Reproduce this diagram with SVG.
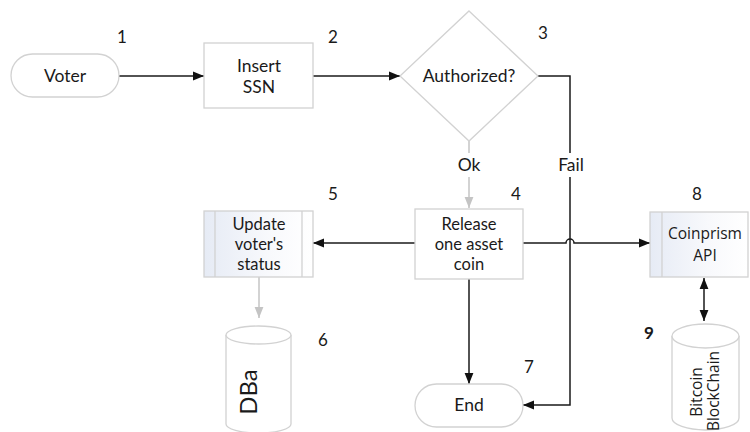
<svg xmlns="http://www.w3.org/2000/svg" width="750" height="432" viewBox="0 0 750 432">
  <defs>
    <marker id="arr" viewBox="0 0 10 10" refX="10" refY="5" markerWidth="11" markerHeight="11" markerUnits="userSpaceOnUse" orient="auto-start-reverse">
      <path d="M0,1 L10,5 L0,9 Z" fill="#111"/>
    </marker>
    <marker id="arrGray" viewBox="0 0 10 10" refX="10" refY="5" markerWidth="11" markerHeight="11" markerUnits="userSpaceOnUse" orient="auto">
      <path d="M0,1 L10,5 L0,9 Z" fill="#c4c4c4"/>
    </marker>
    <linearGradient id="sub" x1="0" y1="0" x2="1" y2="0">
      <stop offset="0" stop-color="#e6ebf5"/>
      <stop offset="0.6" stop-color="#f8f9fc"/>
      <stop offset="1" stop-color="#ffffff"/>
    </linearGradient>
  </defs>
  <style>
    .shape { fill: #ffffff; stroke: #d2d2d2; stroke-width: 1.3; }
    .sub { fill: url(#sub); stroke: #d2d2d2; stroke-width: 1.3; }
    .inner { stroke: #d2d2d2; stroke-width: 1.3; fill: none; }
    .lbl { font-family: Lato, "Liberation Sans", sans-serif; font-size: 17.5px; fill: #1a1a1a; text-anchor: middle; }
    .tight { font-size: 16.5px; }
    .num { font-family: Lato, "Liberation Sans", sans-serif; font-size: 17px; fill: #1a1a1a; text-anchor: middle; }
    .seg { font-family: "Open Sans", "Noto Sans", sans-serif; font-size: 15.5px; fill: #1a1a1a; text-anchor: middle; }
    .line { fill: none; stroke: #1a1a1a; stroke-width: 1.5; }
    .gray { fill: none; stroke: #c4c4c4; stroke-width: 1.5; }
  </style>
  <rect width="750" height="432" fill="#ffffff"/>

  <!-- connectors -->
  <g id="connectors">
    <path class="line" d="M119,76 L204,76" marker-end="url(#arr)"/>
    <path class="line" d="M313,76 L400,76" marker-end="url(#arr)"/>
    <path class="gray" d="M469,141 L469,208" marker-end="url(#arrGray)"/>
    <path class="line" d="M538,76 L570,76 L570,405 L523,405" marker-end="url(#arr)"/>
    <path class="line" d="M415,243 L313,243" marker-end="url(#arr)"/>
    <path class="line" d="M523,243 L566,243 A4,4 0 0 1 574,243 L650,243" marker-end="url(#arr)"/>
    <path class="gray" d="M259,277 L259,318" marker-end="url(#arrGray)"/>
    <path class="line" d="M469,279 L469,384" marker-end="url(#arr)"/>
    <path class="line" d="M704,278 L704,321" marker-start="url(#arr)" marker-end="url(#arr)"/>
    <rect x="451" y="153" width="36" height="24" fill="#ffffff"/>
    <text class="lbl" x="469" y="171">Ok</text>
    <rect x="554" y="153" width="34" height="24" fill="#ffffff"/>
    <text class="lbl" x="571" y="171">Fail</text>
  </g>

  <g id="n1">
    <rect class="shape" x="11" y="54" width="108" height="43" rx="21.5"/>
    <text class="lbl" x="65" y="82">Voter</text>
    <text class="num" x="122" y="43">1</text>
  </g>

  <g id="n2">
    <rect class="shape" x="204" y="43" width="109" height="65"/>
    <text class="lbl" x="259" y="72">Insert</text>
    <text class="lbl" x="259" y="93">SSN</text>
    <text class="num" x="333" y="43">2</text>
  </g>

  <g id="n3">
    <path class="shape" d="M469,11 L538,76 L469,141 L400,76 Z"/>
    <text class="lbl" x="469" y="82">Authorized?</text>
    <text class="num" x="543" y="39">3</text>
  </g>

  <g id="n4">
    <rect class="shape" x="415" y="209" width="108" height="70"/>
    <text class="lbl tight" x="469" y="230">Release</text>
    <text class="lbl tight" x="469" y="250">one asset</text>
    <text class="lbl tight" x="469" y="270">coin</text>
    <text class="num" x="516" y="200">4</text>
  </g>

  <g id="n5">
    <rect class="sub" x="204" y="211" width="109" height="66"/>
    <line class="inner" x1="215" y1="211" x2="215" y2="277"/>
    <line class="inner" x1="302" y1="211" x2="302" y2="277"/>
    <text class="lbl tight" x="259" y="230">Update</text>
    <text class="lbl tight" x="259" y="250">voter's</text>
    <text class="lbl tight" x="259" y="270">status</text>
    <text class="num" x="333" y="200">5</text>
  </g>

  <g id="n6">
    <path class="shape" d="M226,335 L226,424 A32.5,9 0 0 0 291,424 L291,335"/>
    <ellipse class="shape" cx="258.5" cy="335" rx="32.5" ry="9"/>
    <text class="lbl" style="font-size:24px" transform="translate(257,392) rotate(-90)" x="0" y="0">DBa</text>
    <text class="num" x="323" y="346">6</text>
  </g>

  <g id="n7">
    <rect class="shape" x="415" y="384" width="108" height="43" rx="21.5"/>
    <text class="lbl" x="469" y="411">End</text>
    <text class="num" x="529" y="373">7</text>
  </g>

  <g id="n8">
    <rect class="sub" x="650" y="212" width="98" height="65"/>
    <line class="inner" x1="662" y1="212" x2="662" y2="277"/>
    <text class="seg" x="705" y="239">Coinprism</text>
    <text class="seg" x="705" y="261">API</text>
    <text class="num" x="697" y="200">8</text>
  </g>

  <g id="n9">
    <path class="shape" d="M672,336 L672,418 A33.5,12 0 0 0 739,418 L739,336"/>
    <ellipse class="shape" cx="705.5" cy="336" rx="33.5" ry="12"/>
    <text class="seg" transform="translate(702,392) rotate(-90)" x="0" y="0">Bitcoin</text>
    <text class="seg" transform="translate(719,391) rotate(-90)" x="0" y="0">BlockChain</text>
    <text class="num" style="font-weight:bold" x="649" y="339">9</text>
  </g>
</svg>
